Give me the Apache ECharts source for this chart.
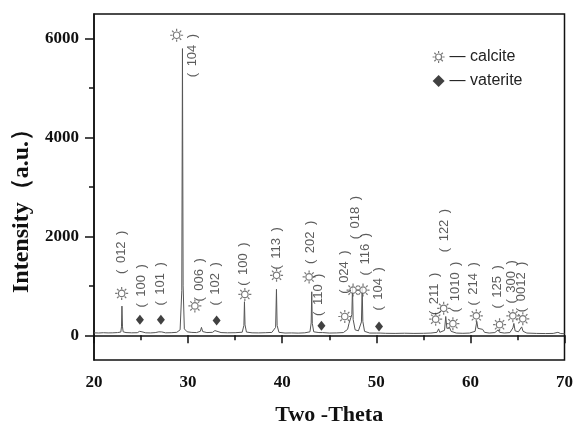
<!DOCTYPE html>
<html>
<head>
<meta charset="utf-8">
<script src="https://cdn.jsdelivr.net/npm/echarts@6/dist/echarts.min.js"></script>
<style>
  html, body { margin: 0; padding: 0; background: #fff; }
  #chart { width: 576px; height: 431px; }
</style>
</head>
<body>
<div id="chart"></div>
<script>
// XRD 图谱数据（2θ 与强度，从图上读出）
const twoTheta = [
  20.0, 20.5, 21.0, 21.5, 22.0, 22.5, 22.85, 22.92, 22.97, 23.03, 23.1, 23.4,
  24.0, 24.6, 24.85, 24.95, 25.1, 25.5, 26.0, 26.5, 26.9, 27.05, 27.2, 27.6,
  28.2, 28.8, 29.15, 29.33, 29.4, 29.47, 29.6, 29.9, 30.4, 30.9, 31.3, 31.42,
  31.55, 32.0, 32.6, 32.85, 33.05, 33.5, 34.2, 35.0, 35.75, 35.93, 35.99, 36.05,
  36.2, 36.8, 37.5, 38.2, 38.9, 39.3, 39.39, 39.46, 39.65, 40.3, 41.0, 41.7,
  42.4, 42.95, 43.08, 43.14, 43.2, 43.35, 43.9, 44.1, 44.3, 45.0, 45.8, 46.5,
  46.95, 47.1, 47.25, 47.4, 47.47, 47.54, 47.75, 48.1, 48.42, 48.5, 48.57, 48.75,
  49.3, 50.0, 50.2, 50.4, 51.0, 52.0, 53.0, 54.0, 55.0, 55.8, 56.45, 56.62,
  56.75, 57.25, 57.38, 57.5, 57.8, 57.95, 58.5, 59.2, 59.9, 60.5, 60.68, 60.8,
  61.0, 61.3, 61.5, 62.0, 62.6, 62.95, 63.1, 63.6, 64.2, 64.52, 64.62, 64.75,
  65.1, 65.45, 65.6, 66.0, 67.0, 68.0, 68.8, 69.3, 69.6, 70.0
];
const counts = [
  50, 46, 52, 48, 50, 55, 65, 170, 590, 170, 70, 55,
  50, 52, 80, 110, 70, 50, 48, 54, 70, 110, 68, 50,
  52, 60, 110, 900, 5800, 1000, 130, 70, 58, 55, 80, 160,
  75, 55, 60, 95, 70, 55, 50, 52, 62, 200, 680, 210,
  65, 50, 48, 52, 58, 160, 930, 200, 60, 45, 48, 44,
  50, 70, 250, 880, 240, 70, 55, 75, 55, 45, 48, 55,
  120, 240, 200, 420, 980, 320, 110, 90, 270, 960, 280, 80,
  45, 45, 65, 45, 40, 38, 42, 38, 40, 45, 60, 130,
  60, 100, 380, 140, 150, 80, 45, 40, 45, 80, 280, 140,
  110, 120, 60, 45, 55, 110, 60, 45, 55, 150, 240, 90,
  70, 170, 80, 45, 38, 35, 38, 60, 35, 32
];

// 方解石（calcite）标记与晶面标注
const calciteTheta = [22.94, 28.78, 30.72, 36.03, 39.4, 42.86, 46.65, 47.53, 48.59, 56.31, 57.16, 58.14, 60.63, 63.1, 64.51, 65.57];
const calciteY = [846, 6070, 594, 826, 1214, 1180, 380, 914, 914, 326, 546, 234, 394, 214, 394, 334];
const calciteLabelTheta = [22.87, 30.51, 31.25, 35.92, 39.43, 43.04, 46.65, 47.81, 48.87, 56.2, 57.26, 58.43, 60.34, 62.89, 64.37, 65.44];
const calciteLabelY = [1680, 5660, 1120, 1440, 1760, 1880, 1280, 2380, 1640, 840, 2120, 980, 1040, 980, 1080, 980];
const calciteHkl = ["012", "104", "006", "100", "113", "202", "024", "018", "116", "211", "122", "1010", "214", "125", "300", "0012"];

// 球霰石（vaterite）标记与晶面标注
const vateriteTheta = [24.88, 27.11, 33.03, 44.17, 50.29];
const vateriteY = [314, 314, 300, 194, 180];
const vateriteLabelTheta = [24.99, 27.11, 32.95, 43.89, 50.25];
const vateriteLabelY = [1000, 1040, 1040, 820, 940];
const vateriteHkl = ["100", "101", "102", "110", "104"];

// 坐标轴刻度
const xTicks = { min: 20, max: 70, interval: 10 };
const yRange = [-500, 6500];
const yMajorTicks = [0, 2000, 4000, 6000];
const yMinorTicks = [1000, 3000, 5000];

const sunPath = "path://M15 10A5 5 0 1 1 5 10A5 5 0 1 1 15 10Z" +
  "M16.5 10L20 10M14.6 14.6L17.07 17.07M10 16.5L10 20M5.4 14.6L2.93 17.07" +
  "M3.5 10L0 10M5.4 5.4L2.93 2.93M10 3.5L10 0M14.6 5.4L17.07 2.93";
const sunStyle = { color: "#fff", borderColor: "#555", borderWidth: 1.2 };

const serifBold = { fontFamily: "Liberation Serif", fontWeight: "bold", color: "#111" };

const zip = (xs, ys) => xs.map((x, i) => [x, ys[i]]);
const labelData = (xs, ys, names) => xs.map((x, i) => ({ value: [x, ys[i]], name: names[i] }));

const hklLabelSeries = (data) => ({
  type: "scatter",
  data: data,
  symbolSize: 1,
  itemStyle: { color: "transparent" },
  silent: true,
  label: {
    show: true,
    position: "inside",
    // 晶面指数两侧的括号留出较宽的间隔
    formatter: (p) => "(\u2002" + p.name + "\u2002)",
    rotate: 90,
    align: "center",
    verticalAlign: "middle",
    fontFamily: "Liberation Sans",
    fontSize: 13,
    color: "#333",
  },
  z: 4,
});

const chart = echarts.init(document.getElementById("chart"));
chart.setOption({
  animation: false,
  grid: {
    left: 94, right: 11, top: 14, bottom: 67,
    show: true, borderColor: "#111", borderWidth: 1.5,
  },
  legend: {
    orient: "vertical",
    left: 427,
    top: 44,
    itemWidth: 12,
    itemHeight: 12,
    itemGap: 8,
    data: [
      { name: "— calcite", itemStyle: sunStyle },
      { name: "— vaterite", itemStyle: { color: "#111" } },
    ],
    textStyle: { fontFamily: "Liberation Sans", fontSize: 16, color: "#222" },
  },
  xAxis: {
    type: "value",
    min: xTicks.min,
    max: xTicks.max,
    interval: xTicks.interval,
    name: "Two -Theta",
    nameLocation: "middle",
    nameGap: 44,
    nameTextStyle: Object.assign({ fontSize: 22 }, serifBold),
    axisLine: { lineStyle: { color: "#111", width: 1.5 } },
    axisTick: { length: 8, lineStyle: { color: "#111", width: 1.5 } },
    minorTick: { show: true, splitNumber: 2, length: 5, lineStyle: { color: "#111", width: 1.5 } },
    axisLabel: Object.assign({ fontSize: 17, margin: 14 }, serifBold),
    splitLine: { show: false },
  },
  yAxis: [
    {
      type: "value",
      min: yRange[0],
      max: yRange[1],
      name: "Intensity（a.u.）",
      nameLocation: "middle",
      nameGap: 58,
      nameTextStyle: Object.assign({ fontSize: 24, padding: [0, 36, 0, 0] }, serifBold),
      axisLine: { show: true, lineStyle: { color: "#111", width: 1.5 } },
      axisTick: { show: true, length: 9, customValues: yMajorTicks, lineStyle: { color: "#111", width: 1.5 } },
      axisLabel: Object.assign({
        fontSize: 17, margin: 15, customValues: yMajorTicks,
        formatter: (v) => String(v),
      }, serifBold),
      splitLine: { show: false },
    },
    {
      type: "value",
      min: yRange[0],
      max: yRange[1],
      position: "left",
      axisLine: { show: false },
      axisTick: { show: true, length: 5, customValues: yMinorTicks, lineStyle: { color: "#111", width: 1.5 } },
      axisLabel: { show: false },
      splitLine: { show: false },
    },
  ],
  series: [
    {
      type: "line",
      data: zip(twoTheta, counts),
      showSymbol: false,
      lineStyle: { color: "#555", width: 1 },
      silent: true,
      z: 2,
    },
    {
      name: "— calcite",
      type: "scatter",
      data: zip(calciteTheta, calciteY),
      symbol: sunPath,
      symbolSize: 13,
      itemStyle: sunStyle,
      z: 3,
    },
    {
      name: "— vaterite",
      type: "scatter",
      data: zip(vateriteTheta, vateriteY),
      symbol: "diamond",
      symbolSize: [8, 10],
      itemStyle: { color: "#111" },
      z: 3,
    },
    hklLabelSeries(labelData(calciteLabelTheta, calciteLabelY, calciteHkl)),
    hklLabelSeries(labelData(vateriteLabelTheta, vateriteLabelY, vateriteHkl)),
  ],
});
</script>
</body>
</html>
